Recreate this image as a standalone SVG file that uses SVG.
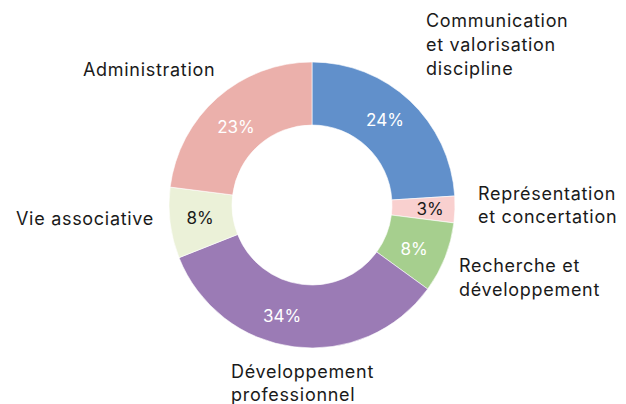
<svg xmlns="http://www.w3.org/2000/svg" width="626" height="404" viewBox="0 0 626 404">
<style>
.lbl{font-family:Inter,"Open Sans","Liberation Sans",sans-serif;font-size:18px;letter-spacing:0.7px;fill:#1a1a1a}
.pct{font-family:Inter,"Open Sans","Liberation Sans",sans-serif;font-size:17px;text-anchor:middle}
.w{fill:#ffffff}
.d{fill:#1a1a1a}
.seg{stroke:#ffffff;stroke-width:0.6}
</style>
<rect width="626" height="404" fill="#ffffff"/>
<g id="slices">
<g id="communication"><path class="seg" fill="#6190cb" d="M312,62 A143,143 0 0 1 454.72,196.02 L391.84,199.98 A80,80 0 0 0 312,125 Z"/><text class="pct w" x="385" y="126">24%</text></g>
<g id="representation"><path class="seg" fill="#f9d0cf" d="M454.72,196.02 A143,143 0 0 1 453.87,222.92 L391.37,215.03 A80,80 0 0 0 391.84,199.98 Z"/><text class="pct d" x="430" y="215">3%</text></g>
<g id="recherche"><path class="seg" fill="#a6cf8e" d="M453.87,222.92 A143,143 0 0 1 427.69,289.05 L376.72,252.02 A80,80 0 0 0 391.37,215.03 Z"/><text class="pct w" x="414" y="255">8%</text></g>
<g id="developpement"><path class="seg" fill="#9b7bb5" d="M427.69,289.05 A143,143 0 0 1 179.04,257.64 L237.62,234.45 A80,80 0 0 0 376.72,252.02 Z"/><text class="pct w" x="282" y="322">34%</text></g>
<g id="vie"><path class="seg" fill="#ebf1d8" d="M179.04,257.64 A143,143 0 0 1 170.13,187.08 L232.63,194.97 A80,80 0 0 0 237.62,234.45 Z"/><text class="pct d" x="200" y="224">8%</text></g>
<g id="administration"><path class="seg" fill="#ebb0ab" d="M170.13,187.08 A143,143 0 0 1 312,62 L312,125 A80,80 0 0 0 232.63,194.97 Z"/><text class="pct w" x="236" y="133">23%</text></g>
</g>
<g id="labels">
<text class="lbl" x="426" y="27">Communication</text>
<text class="lbl" x="426" y="51">et valorisation</text>
<text class="lbl" x="426" y="75">discipline</text>
<text class="lbl" x="83" y="76">Administration</text>
<text class="lbl" x="16" y="225">Vie associative</text>
<text class="lbl" x="478" y="200">Représentation</text>
<text class="lbl" x="478" y="223">et concertation</text>
<text class="lbl" x="459" y="272">Recherche et</text>
<text class="lbl" x="459" y="296">développement</text>
<text class="lbl" x="231" y="378">Développement</text>
<text class="lbl" x="231" y="401">professionnel</text>
</g>
</svg>
